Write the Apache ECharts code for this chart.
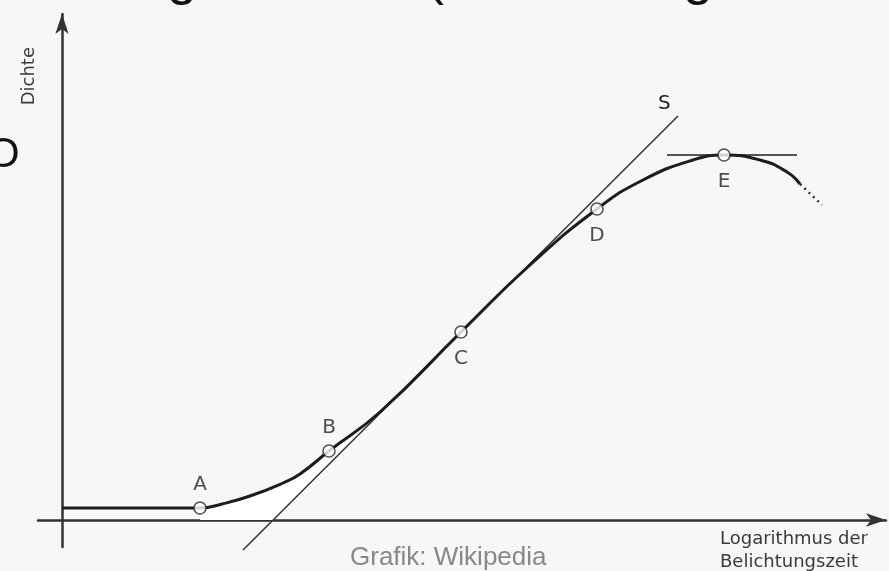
<!DOCTYPE html>
<html>
<head>
<meta charset="utf-8">
<script src="https://cdn.jsdelivr.net/npm/echarts@6/dist/echarts.min.js"></script>
<style>
  html, body { margin: 0; padding: 0; background: #f7f7f7; }
  #chart { width: 889px; height: 571px; }
</style>
</head>
<body>
<div id="chart"></div>
<script>
// Characteristic curve: density over log exposure time
const curveX = [0, 1.00, 1.38, 1.60, 1.88, 2.21, 2.38, 2.67, 3.18, 3.99, 4.68, 5.35, 5.81, 6.31, 6.62, 6.98, 7.25, 7.38];
const curveY = [0.12, 0.12, 0.12, 0.16, 0.24, 0.37, 0.46, 0.69, 1.08, 1.88, 2.55, 3.11, 3.40, 3.60, 3.65, 3.60, 3.48, 3.36];

// dotted continuation past the shoulder
const tailX = [7.38, 7.60];
const tailY = [3.36, 3.15];

// marked points on the curve
const pointNames = ['A', 'B', 'C', 'D', 'E'];
const pointX = [1.38, 2.67, 3.99, 5.35, 6.62];
const pointY = [0.12, 0.69, 1.88, 3.11, 3.65];
const pointLabelPos = ['top', 'top', 'bottom', 'bottom', 'bottom'];

// tangent S through the straight part, and the horizontal tangent at E
const tangentX = [1.81, 6.16];
const tangentY = [-0.30, 4.04];
const flatX = [6.05, 7.35];
const flatY = [3.65, 3.65];

// stretch of the toe that lies between curve and tangent (A .. contact point)
const toeFrom = 2;
const toeTo = 8;

const axisLabelX = 'Logarithmus der\nBelichtungszeit';
const axisLabelY = 'Dichte';
const credit = 'Grafik: Wikipedia';

const pairs = (xs, ys) => xs.map((x, i) => [x, ys[i]]);

const chart = echarts.init(document.getElementById('chart'), null, { renderer: 'canvas' });

const axisLine = {
  onZero: true,
  symbol: ['none', 'arrow'],
  symbolSize: [10, 20],
  lineStyle: { color: '#333', width: 2.5 }
};

const option = {
  backgroundColor: '#f7f7f7',
  animation: false,
  grid: { left: 38, right: 3, top: 14, bottom: 24 },
  xAxis: {
    type: 'value', min: -0.24, max: 8.24,
    axisLine: axisLine,
    axisTick: { show: false }, axisLabel: { show: false }, splitLine: { show: false }
  },
  yAxis: {
    type: 'value', min: -0.27, max: 5.06,
    axisLine: axisLine,
    axisTick: { show: false }, axisLabel: { show: false }, splitLine: { show: false }
  },
  series: [
    {
      // white wedge between toe and tangent, down to the exposure axis
      type: 'custom',
      silent: true,
      z: 1,
      data: [[0, 0]],
      renderItem: function (params, api) {
        const slope = (tangentY[1] - tangentY[0]) / (tangentX[1] - tangentX[0]);
        const cross = tangentX[0] - tangentY[0] / slope;
        const pts = [];
        for (let i = toeFrom; i <= toeTo; i++) pts.push(api.coord([curveX[i], curveY[i]]));
        pts.push(api.coord([cross, 0]));
        pts.push(api.coord([curveX[toeFrom], 0]));
        return { type: 'polygon', shape: { points: pts }, style: { fill: '#ffffff' } };
      }
    },
    {
      type: 'line',
      z: 3,
      data: pairs(tangentX, tangentY),
      symbol: 'none',
      clip: false,
      lineStyle: { color: '#333', width: 1.5 },
      endLabel: {
        show: true, formatter: 'S', offset: [-28, -12],
        fontFamily: 'DejaVu Sans', fontSize: 20, color: '#222'
      }
    },
    {
      type: 'line',
      z: 3,
      data: pairs(flatX, flatY),
      symbol: 'none',
      lineStyle: { color: '#555', width: 2 }
    },
    {
      type: 'line',
      z: 4,
      data: pairs(curveX, curveY),
      symbol: 'none',
      smooth: 0.5,
      lineStyle: { color: '#1c1c1c', width: 3 }
    },
    {
      type: 'line',
      z: 4,
      data: pairs(tailX, tailY),
      symbol: 'none',
      lineStyle: { color: '#333', width: 2.5, type: [2, 4] }
    },
    {
      type: 'scatter',
      z: 5,
      symbol: 'circle',
      symbolSize: 12,
      itemStyle: { color: '#ffffff', borderColor: '#2a2a2a', borderWidth: 1.6 },
      label: {
        show: true, formatter: '{b}',
        fontFamily: 'DejaVu Sans', fontSize: 20, color: '#222'
      },
      data: pointNames.map((n, i) => ({
        name: n,
        value: [pointX[i], pointY[i]],
        label: { position: pointLabelPos[i], distance: pointLabelPos[i] === 'top' ? 6 : 10 }
      }))
    }
  ],
  graphic: [
    {
      type: 'text', left: 20, top: 47, rotation: Math.PI / 2, z: 10,
      style: { text: axisLabelY, font: '18px "DejaVu Sans"', fill: '#3a3a3a' }
    },
    {
      type: 'text', left: 720, top: 528, z: 10,
      style: { text: axisLabelX, font: '18px "DejaVu Sans"', fill: '#3a3a3a', lineHeight: 23 }
    },
    {
      type: 'text', left: 350, top: 545, z: 10,
      style: { text: credit, font: '26px "Liberation Sans"', fill: '#888' }
    },
    // slide heading and side text, cut off by the frame
    {
      type: 'text', x: 167, y: -48, z: 10,
      style: { text: 'g', font: '54px "Liberation Sans"', fill: '#111' }
    },
    {
      type: 'text', x: 426, y: -48, z: 10,
      style: { text: '(', font: '54px "Liberation Sans"', fill: '#111' }
    },
    {
      type: 'text', x: 683, y: -48, z: 10,
      style: { text: 'g', font: '54px "Liberation Sans"', fill: '#111' }
    },
    {
      type: 'text', x: -13, y: 134, z: 10,
      style: { text: 'O', font: '42px "Liberation Sans"', fill: '#111' }
    }
  ]
};

chart.setOption(option);
</script>
</body>
</html>
